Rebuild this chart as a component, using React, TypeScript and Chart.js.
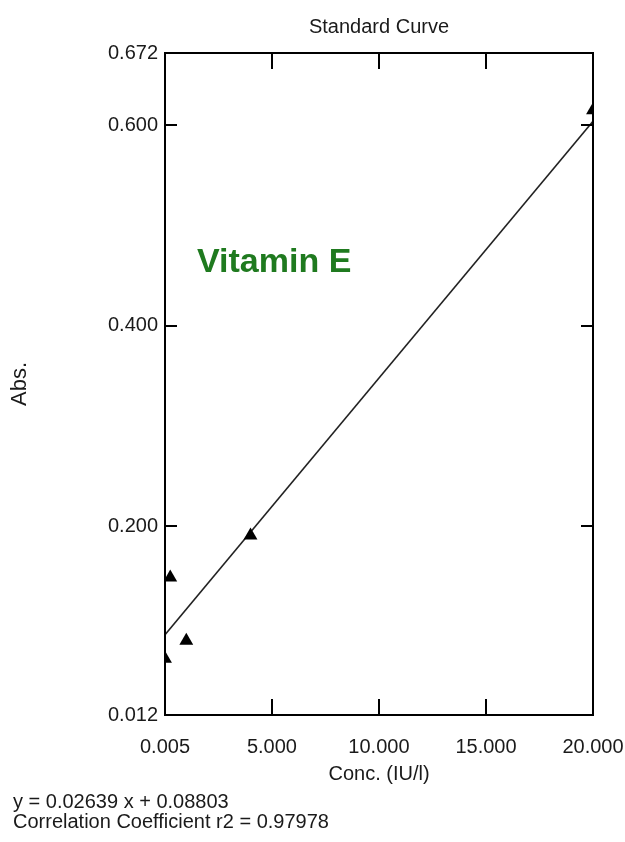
import React, { useEffect, useRef } from 'react';
import { Chart, registerables } from 'chart.js';

Chart.register(...registerables);

// ---- data ----
const pointX = [0.005, 0.25, 1.0, 4.0, 20.0];
const pointY = [0.068, 0.149, 0.086, 0.191, 0.615];
const lineX = [0.005, 20.0];
const lineY = [0.092, 0.604];
const xTicks = [0.005, 5, 10, 15, 20];
const yTicks = [0.012, 0.2, 0.4, 0.6, 0.672];
const titleText = 'Standard Curve';
const xTitle = 'Conc. (IU/l)';
const yTitle = 'Abs.';
const labelText = 'Vitamin E';
const labelPos = [1.5, 0.463];
const footerLines = ['y = 0.02639 x + 0.08803', 'Correlation Coefficient r2 = 0.97978'];

const FONT = "'Liberation Sans', Arial, sans-serif";
const TEXT = '#1a1a1a';

const framePlugin = {
  id: 'frame',
  afterDatasetsDraw(chart: any) {
    const { ctx, chartArea: a, scales } = chart;
    const xs = scales.x;
    const ys = scales.y;
    ctx.save();
    ctx.strokeStyle = '#000';
    ctx.lineWidth = 2;
    ctx.strokeRect(a.left, a.top, a.right - a.left, a.bottom - a.top);
    ctx.beginPath();
    xTicks.slice(1, -1).forEach((v) => {
      const px = Math.round(xs.getPixelForValue(v));
      ctx.moveTo(px, a.bottom);
      ctx.lineTo(px, a.bottom - 16);
      ctx.moveTo(px, a.top);
      ctx.lineTo(px, a.top + 16);
    });
    yTicks.slice(1, -1).forEach((v) => {
      const py = Math.round(ys.getPixelForValue(v));
      ctx.moveTo(a.left, py);
      ctx.lineTo(a.left + 12, py);
      ctx.moveTo(a.right, py);
      ctx.lineTo(a.right - 12, py);
    });
    ctx.stroke();
    ctx.font = `bold 34px ${FONT}`;
    ctx.fillStyle = '#1f7a1f';
    ctx.textAlign = 'left';
    ctx.textBaseline = 'middle';
    ctx.fillText(labelText, xs.getPixelForValue(labelPos[0]), ys.getPixelForValue(labelPos[1]));
    ctx.restore();
  },
  afterDraw(chart: any) {
    const { ctx, chartArea: a } = chart;
    ctx.save();
    ctx.font = `20px ${FONT}`;
    ctx.fillStyle = TEXT;
    ctx.textBaseline = 'middle';
    ctx.textAlign = 'center';
    ctx.fillText(titleText, (a.left + a.right) / 2, 27);
    ctx.textAlign = 'left';
    footerLines.forEach((t, i) => ctx.fillText(t, 13, 802 + i * 20));
    ctx.restore();
  },
};

export default function App() {
  const ref = useRef<HTMLCanvasElement | null>(null);
  useEffect(() => {
    if (!ref.current) return;
    const font = { family: FONT, size: 20, weight: 'normal' as const, lineHeight: 1.2 };
    const chart = new Chart(ref.current, {
      type: 'scatter',
      data: {
        datasets: [
          {
            label: 'points',
            data: pointX.map((x, i) => ({ x, y: pointY[i] })),
            pointStyle: 'triangle',
            pointRadius: 8,
            backgroundColor: '#000',
            borderColor: '#000',
            borderWidth: 0,
            showLine: false,
            clip: 0,
            order: 1,
          } as any,
          {
            label: 'fit',
            data: lineX.map((x, i) => ({ x, y: lineY[i] })),
            showLine: true,
            pointRadius: 0,
            borderColor: '#222',
            borderWidth: 1.6,
            clip: 0,
            order: 2,
          } as any,
        ],
      },
      options: {
        responsive: false,
        animation: false,
        layout: { padding: { left: 0, right: 32, top: 53, bottom: 52 } },
        plugins: {
          legend: { display: false },
          tooltip: { enabled: false },
          title: { display: false },
        },
        scales: {
          x: {
            type: 'linear',
            min: 0.005,
            max: 20,
            grid: { display: false, drawTicks: false },
            border: { display: false },
            afterBuildTicks: (s: any) => {
              s.ticks = xTicks.map((v) => ({ value: v }));
            },
            afterFit: (s: any) => {
              s.height = 75;
              s.paddingLeft = 0;
              s.paddingRight = 0;
            },
            ticks: {
              padding: 20,
              color: TEXT,
              font,
              autoSkip: false,
              maxRotation: 0,
              callback: (v: any) => Number(v).toFixed(3),
            },
            title: { display: true, text: xTitle, color: TEXT, font, padding: { top: 0, bottom: 4 } },
          },
          y: {
            type: 'linear',
            min: 0.012,
            max: 0.672,
            grid: { display: false, drawTicks: false },
            border: { display: false },
            afterBuildTicks: (s: any) => {
              s.ticks = yTicks.map((v) => ({ value: v }));
            },
            afterFit: (s: any) => {
              s.width = 165;
              s.paddingTop = 0;
              s.paddingBottom = 0;
            },
            ticks: {
              padding: 7,
              color: TEXT,
              font,
              autoSkip: false,
              callback: (v: any) => Number(v).toFixed(3),
            },
            title: { display: true, text: yTitle, color: TEXT, font: { ...font, size: 22 }, padding: { top: 7, bottom: 0 } },
          },
        },
      },
      plugins: [framePlugin],
    } as any);
    return () => chart.destroy();
  }, []);
  return (
    <div style={{ position: 'absolute', left: 0, top: 0, width: 625, height: 842, background: '#fff' }}>
      <canvas ref={ref} width={625} height={842} style={{ width: 625, height: 842 }} />
    </div>
  );
}
